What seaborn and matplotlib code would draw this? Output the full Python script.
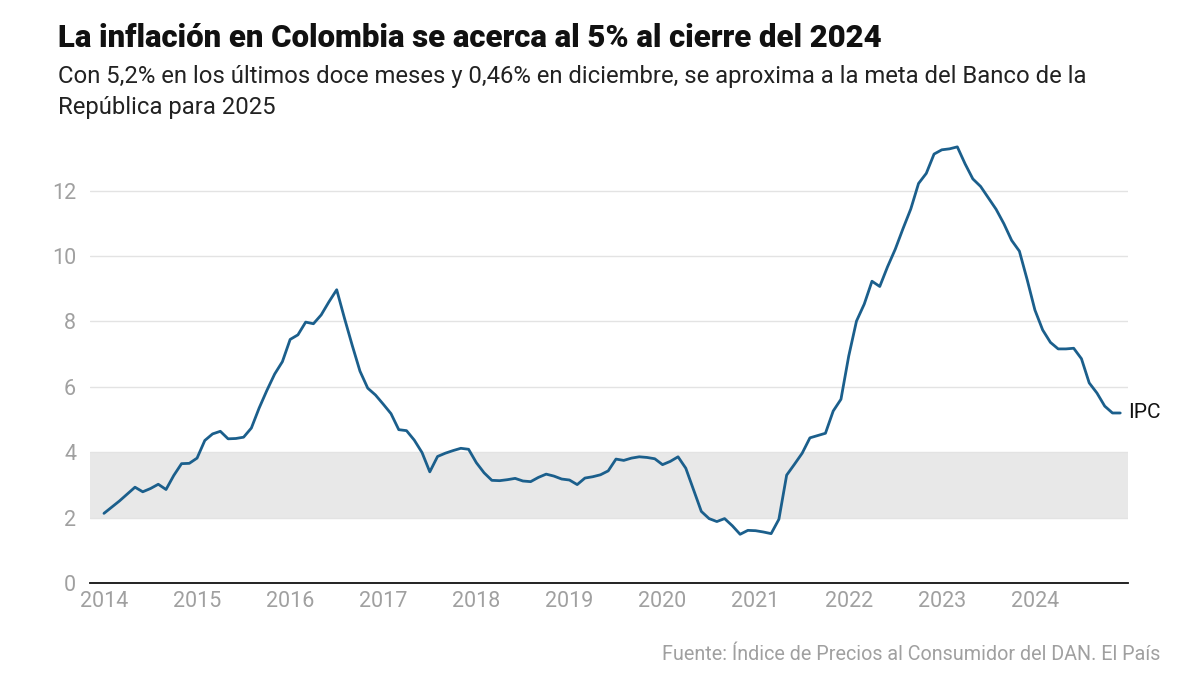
import numpy as np
import pandas as pd
import seaborn as sns
import matplotlib.pyplot as plt

# inflacion anual (%) mensual, ene 2014 - dic 2024
ipc_2014 = [2.13, 2.32, 2.51, 2.72, 2.93, 2.79, 2.89, 3.02, 2.86, 3.29, 3.65, 3.66]
ipc_2015 = [3.82, 4.36, 4.56, 4.64, 4.41, 4.42, 4.46, 4.74, 5.35, 5.89, 6.39, 6.77]
ipc_2016 = [7.45, 7.59, 7.98, 7.93, 8.20, 8.60, 8.97, 8.10, 7.27, 6.48, 5.96, 5.75]
ipc_2017 = [5.47, 5.18, 4.69, 4.66, 4.37, 3.99, 3.40, 3.87, 3.97, 4.05, 4.12, 4.09]
ipc_2018 = [3.68, 3.37, 3.14, 3.13, 3.16, 3.20, 3.12, 3.10, 3.23, 3.33, 3.27, 3.18]
ipc_2019 = [3.15, 3.01, 3.21, 3.25, 3.31, 3.43, 3.79, 3.75, 3.82, 3.86, 3.84, 3.80]
ipc_2020 = [3.62, 3.72, 3.86, 3.51, 2.85, 2.19, 1.97, 1.88, 1.97, 1.75, 1.49, 1.61]
ipc_2021 = [1.60, 1.56, 1.51, 1.95, 3.30, 3.63, 3.97, 4.44, 4.51, 4.58, 5.26, 5.62]
ipc_2022 = [6.94, 8.01, 8.53, 9.23, 9.07, 9.67, 10.21, 10.84, 11.44, 12.22, 12.53, 13.12]
ipc_2023 = [13.25, 13.28, 13.34, 12.82, 12.36, 12.13, 11.78, 11.43, 10.99, 10.48, 10.15, 9.28]
ipc_2024 = [8.35, 7.74, 7.36, 7.16, 7.16, 7.18, 6.86, 6.12, 5.81, 5.41, 5.20, 5.20]

years = list(range(2014, 2025))
meta_rango = [2, 4]
y_ticks = [0, 2, 4, 6, 8, 10, 12]

ipc = (ipc_2014 + ipc_2015 + ipc_2016 + ipc_2017 + ipc_2018 + ipc_2019
       + ipc_2020 + ipc_2021 + ipc_2022 + ipc_2023 + ipc_2024)
fecha = [y + m / 12 for y in years for m in range(12)]
df = pd.DataFrame({"fecha": fecha, "ipc": ipc})

sns.set_theme(style="white")
plt.rcParams["font.family"] = ["Roboto", "DejaVu Sans"]

fig = plt.figure(figsize=(12, 6.75), dpi=100)
ax = fig.add_axes([90 / 1200, 1 - 583 / 675, (1128 - 90) / 1200, (583 - 140) / 675])

ax.axhspan(meta_rango[0], meta_rango[1], color="#e8e8e8", zorder=0, lw=0)
for t in y_ticks[1:]:
    ax.axhline(t, color="#e3e3e3", lw=1, zorder=0.5)

sns.lineplot(data=df, x="fecha", y="ipc", color="#1b5f8c", lw=2, ax=ax, zorder=3)

ax.set_xlim(2013.85, 2025.0)
ax.set_ylim(0, 13.55)
ax.set_xticks(years)
ax.set_xticklabels([str(y) for y in years])
ax.set_yticks(y_ticks)
ax.set_xlabel("")
ax.set_ylabel("")
ax.tick_params(axis="both", labelsize=15.5, labelcolor="#a0a0a0", length=0)
ax.tick_params(axis="x", pad=6)
ax.tick_params(axis="y", pad=10)

for s in ["top", "right", "left"]:
    ax.spines[s].set_visible(False)
ax.spines["bottom"].set_color("#111111")
ax.spines["bottom"].set_linewidth(1.3)

ax.text(df["fecha"].iloc[-1] + 0.08, df["ipc"].iloc[-1], "IPC",
        fontsize=15, color="#111111", va="center", ha="left")

fig.text(58 / 1200, 1 - 38 / 675, "La inflación en Colombia se acerca al 5% al cierre del 2024",
         fontsize=22.4, fontweight="heavy", color="#111111", va="center")
fig.text(58 / 1200, 1 - 92 / 675,
         "Con 5,2% en los últimos doce meses y 0,46% en diciembre, se aproxima a la meta del Banco de la\nRepública para 2025",
         fontsize=17.2, color="#222222", va="center", linespacing=1.45)
fig.text(1160 / 1200, 1 - 655 / 675, "Fuente: Índice de Precios al Consumidor del DAN. El País",
         fontsize=14.2, color="#a0a0a0", ha="right", va="center")

fig.savefig("out.png", dpi=100)
